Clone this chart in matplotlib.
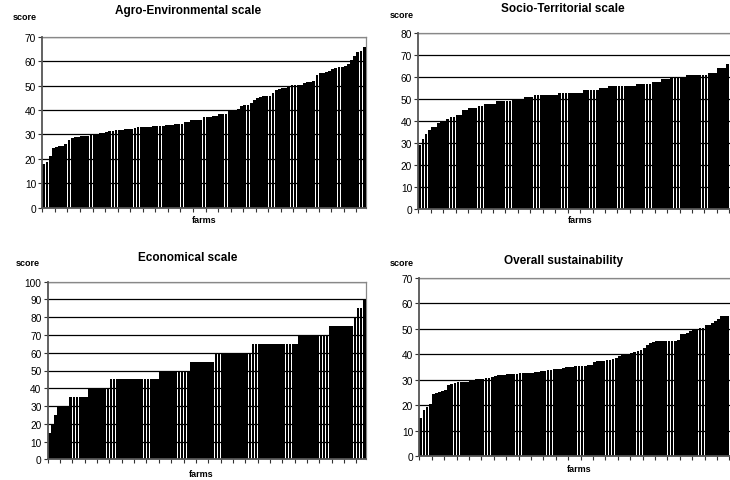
import matplotlib
matplotlib.use("Agg")
import matplotlib.pyplot as plt
import numpy as np

plt.rcParams['font.family'] = ['Liberation Sans', 'DejaVu Sans']

titles = ["Agro-Environmental scale", "Socio-Territorial scale",
          "Economical scale", "Overall sustainability"]

agro = [18.0, 18.8, 21.0, 24.5, 24.8, 25.2, 25.4, 26.0, 27.7, 28.5,
        28.8, 29.1, 29.2, 29.2, 29.3, 30.0, 30.1, 30.2, 30.5, 30.6,
        31.0, 31.2, 31.3, 31.8, 31.8, 31.9, 32.2, 32.2, 32.3, 32.5,
        32.9, 32.9, 33.0, 33.0, 33.1, 33.4, 33.4, 33.5, 33.6, 33.8,
        33.9, 34.0, 34.2, 34.2, 34.3, 34.9, 34.9, 35.7, 35.7, 36.0,
        36.0, 37.2, 37.2, 37.2, 37.4, 37.6, 38.2, 38.2, 38.4, 39.4,
        40.0, 40.1, 40.5, 41.5, 42.0, 42.2, 42.8, 44.2, 44.9, 45.5,
        45.7, 45.7, 45.8, 46.9, 48.0, 48.6, 49.0, 49.1, 50.0, 50.1,
        50.1, 50.2, 50.3, 51.2, 51.3, 51.4, 51.7, 54.2, 55.0, 55.0,
        55.7, 55.8, 56.9, 57.3, 57.4, 57.5, 58.0, 58.8, 60.5, 62.2,
        63.6, 64.3, 65.9]

socio = [29.3, 32.0, 34.3, 36.0, 37.3, 37.5, 39.0, 40.0, 40.0, 41.0,
         42.0, 42.0, 43.0, 43.0, 45.0, 45.0, 46.0, 46.0, 46.0, 47.0,
         47.0, 48.0, 48.0, 48.0, 48.0, 49.0, 49.0, 49.0, 49.0, 49.0,
         50.0, 50.0, 50.0, 50.0, 51.0, 51.0, 51.0, 52.0, 52.0, 52.0,
         52.0, 52.0, 52.0, 52.0, 52.0, 53.0, 53.0, 53.0, 53.0, 53.0,
         53.0, 53.0, 53.0, 54.0, 54.0, 54.0, 54.0, 54.0, 55.0, 55.0,
         55.0, 56.0, 56.0, 56.0, 56.0, 56.0, 56.0, 56.0, 56.0, 56.0,
         57.0, 57.0, 57.0, 57.0, 57.0, 58.0, 58.0, 58.0, 59.0, 59.0,
         59.0, 60.0, 60.0, 60.0, 60.0, 60.0, 61.0, 61.0, 61.0, 61.0,
         61.0, 61.0, 61.0, 62.0, 62.0, 62.0, 64.0, 64.0, 64.0, 66.0,
         66.0]

econ = [15, 20, 25, 30, 30, 30, 30, 35, 35, 35,
        35, 35, 35, 40, 40, 40, 40, 40, 40, 40,
        45, 45, 45, 45, 45, 45, 45, 45, 45, 45,
        45, 45, 45, 45, 45, 45, 50, 50, 50, 50,
        50, 50, 50, 50, 50, 50, 55, 55, 55, 55,
        55, 55, 55, 55, 60, 60, 60, 60, 60, 60,
        60, 60, 60, 60, 60, 60, 65, 65, 65, 65,
        65, 65, 65, 65, 65, 65, 65, 65, 65, 65,
        65, 70, 70, 70, 70, 70, 70, 70, 70, 70,
        70, 75, 75, 75, 75, 75, 75, 75, 75, 80,
        85, 85, 90]

overall = [15.0, 18.0, 19.3, 20.5, 24.3, 24.9, 25.3, 25.7, 25.8, 27.8,
           28.4, 28.7, 29.0, 29.1, 29.1, 29.2, 30.0, 30.1, 30.2, 30.3,
           30.4, 30.7, 30.8, 31.2, 31.3, 31.8, 31.9, 32.0, 32.1, 32.2,
           32.2, 32.3, 32.5, 32.6, 32.6, 32.7, 32.8, 33.1, 33.2, 33.3,
           33.4, 33.7, 33.8, 34.1, 34.2, 34.3, 34.5, 35.0, 35.1, 35.1,
           35.2, 35.2, 35.3, 35.5, 35.6, 35.8, 37.0, 37.2, 37.2, 37.3,
           37.6, 37.7, 38.2, 38.4, 39.2, 39.8, 40.1, 40.2, 40.3, 40.8,
           41.4, 41.8, 42.6, 43.5, 44.3, 44.8, 45.0, 45.0, 45.0, 45.0,
           45.0, 45.0, 45.0, 45.6, 48.0, 48.0, 48.3, 49.2, 49.8, 50.0,
           50.1, 50.2, 51.4, 51.6, 52.4, 53.0, 54.0, 54.8, 54.9, 55.0,
           55.5]

series = [agro, socio, econ, overall]
ymax = [70, 80, 100, 70]

W, H = 730, 481
fig = plt.figure(figsize=(W / 100, H / 100), dpi=100)

# pixel boxes: left, right, top, bottom, xmax (visible categories)
boxes = [
    (42.3, 365.7, 37.7, 208.7, 102.5, True),
    (418.3, 730.0, 34.3, 210.0, 99.7, False),
    (47.7, 365.7, 282.7, 460.3, 102.5, True),
    (419.3, 730.0, 278.7, 457.3, 99.7, False),
]
# title centre x, title y, score x, score y, farms x, farms y (pixels)
labels_pos = [
    (188, 11, 25, 18, 204, 221),
    (563, 9, 402, 16, 580, 221),
    (188, 258, 28, 264, 201, 475),
    (563, 261, 402, 264, 579, 470),
]

for i, (vals, top, box, lp) in enumerate(zip(series, ymax, boxes, labels_pos)):
    l, r, t, b, xm, right_spine = box
    ax = fig.add_axes([l / W, (H - b) / H, (r - l) / W, (b - t) / H])
    x = np.arange(len(vals))
    ax.bar(x, vals, width=0.9, color='black', edgecolor='none', zorder=3)
    ax.set_xlim(-0.5, xm)
    ax.set_ylim(0, top)
    ax.set_yticks(np.arange(0, top + 1, 10))
    ax.yaxis.grid(True, color='black', linewidth=0.9, zorder=1)
    ax.set_axisbelow(True)
    ax.set_xticks(np.arange(-0.5, len(vals), 4))
    ax.set_xticklabels([])
    ax.tick_params(axis='x', direction='out', length=3, width=0.8, color='#333333')
    ax.tick_params(axis='y', direction='out', length=3, width=0.8, color='#333333',
                   labelsize=7.3, pad=1.5)
    for s in ['left', 'bottom']:
        ax.spines[s].set_color('#555555')
        ax.spines[s].set_linewidth(1.3)
        ax.spines[s].set_zorder(5)
    ax.spines['top'].set_color('#888888')
    ax.spines['top'].set_linewidth(0.9)
    if right_spine:
        ax.spines['right'].set_color('#888888')
        ax.spines['right'].set_linewidth(0.9)
    else:
        ax.spines['right'].set_visible(False)
    tx, ty, sx, sy, fx, fy = lp
    fig.text(tx / W, 1 - ty / H, titles[i], ha='center', va='center',
             fontsize=8.5, fontweight='bold')
    fig.text(sx / W, 1 - sy / H, "score", ha='center', va='center',
             fontsize=6.5, fontweight='bold')
    fig.text(fx / W, 1 - fy / H, "farms", ha='center', va='center',
             fontsize=6.5, fontweight='bold')

fig.savefig("out.png", dpi=100)
